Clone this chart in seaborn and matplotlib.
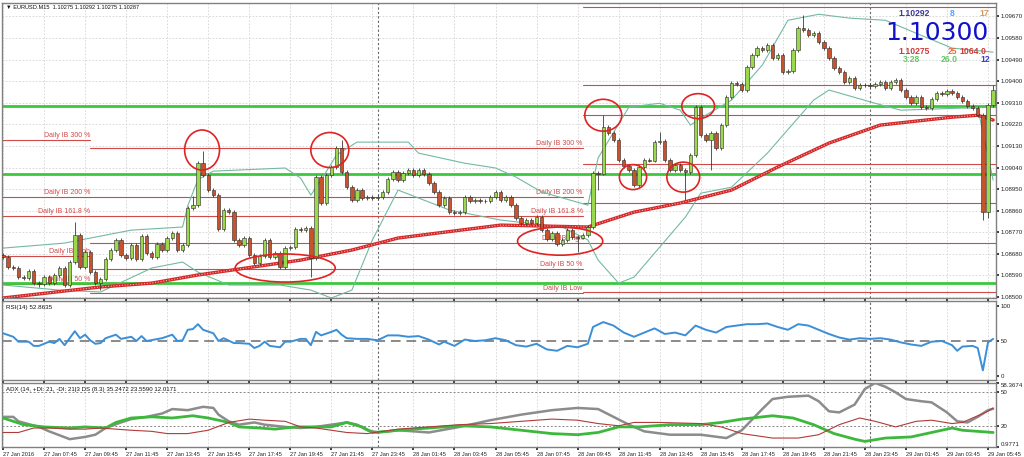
import numpy as np
import pandas as pd
import seaborn as sns
import matplotlib.pyplot as plt
from matplotlib.patches import Ellipse

# EURUSD M15, one candle per bar index (bar 0 = 27 Jan 05:45)
first_open = 1.08675
closes = [
    1.08667, 1.08625, 1.08621, 1.08583, 1.08579, 1.08608, 1.08558, 1.08554, 1.08583, 1.08558,
    1.08592, 1.08621, 1.08550, 1.08646, 1.08758, 1.08625, 1.08688, 1.08604, 1.08558, 1.08575,
    1.08658, 1.08696, 1.08738, 1.08675, 1.08663, 1.08717, 1.08658, 1.08754, 1.08683, 1.08667,
    1.08721, 1.08696, 1.08746, 1.08767, 1.08696, 1.08717, 1.08871, 1.08883, 1.09058, 1.09008,
    1.08946, 1.08925, 1.08783, 1.08863, 1.08854, 1.08738, 1.08717, 1.08746, 1.08675, 1.08642,
    1.08671, 1.08738, 1.08667, 1.08683, 1.08625, 1.08704, 1.08708, 1.08783, 1.08781, 1.08788,
    1.08663, 1.09000, 1.08892, 1.09008, 1.09042, 1.09121, 1.09021, 1.08958, 1.08904, 1.08946,
    1.08913, 1.08917, 1.08913, 1.08917, 1.08938, 1.08992, 1.09021, 1.08988, 1.09017, 1.09029,
    1.09008, 1.09029, 1.09013, 1.08975, 1.08938, 1.08883, 1.08913, 1.08854, 1.08850, 1.08854,
    1.08917, 1.08900, 1.08904, 1.08900, 1.08902, 1.08917, 1.08938, 1.08904, 1.08917, 1.08883,
    1.08829, 1.08808, 1.08821, 1.08808, 1.08833, 1.08779, 1.08742, 1.08767, 1.08721, 1.08738,
    1.08779, 1.08750, 1.08748, 1.08758, 1.08792, 1.09017, 1.09015, 1.09208, 1.09183, 1.09154,
    1.09071, 1.09046, 1.09029, 1.08967, 1.09042, 1.09071, 1.09069, 1.09146, 1.09150, 1.09071,
    1.09029, 1.09050, 1.09029, 1.09021, 1.09092, 1.09292, 1.09175, 1.09154, 1.09183, 1.09121,
    1.09217, 1.09333, 1.09392, 1.09388, 1.09363, 1.09458, 1.09508, 1.09538, 1.09529, 1.09550,
    1.09496, 1.09508, 1.09438, 1.09442, 1.09529, 1.09621, 1.09613, 1.09592, 1.09600, 1.09563,
    1.09538, 1.09496, 1.09454, 1.09438, 1.09396, 1.09413, 1.09371, 1.09383, 1.09385, 1.09379,
    1.09388, 1.09396, 1.09371, 1.09396, 1.09404, 1.09363, 1.09333, 1.09308, 1.09333, 1.09292,
    1.09288, 1.09325, 1.09350, 1.09346, 1.09358, 1.09350, 1.09333, 1.09317, 1.09296, 1.09288,
    1.09258, 1.08854, 1.09300, 1.09363,
]
# bars with a long shadow
long_highs = {14: 1.08813, 37: 1.08921, 39: 1.09108, 66: 1.09154, 117: 1.09258,
              128: 1.09188, 156: 1.09675, 193: 1.09383}
long_lows = {7: 1.08542, 19: 1.08529, 60: 1.08583, 112: 1.08688, 116: 1.08946,
             133: 1.08904, 138: 1.09029, 191: 1.08821, 192: 1.08829}

# moving average (red dotted)
ma_bars = [0, 19, 29, 38, 58, 68, 77, 97, 114, 123, 132, 142, 151, 161, 171, 185, 190, 193]
ma_vals = [1.08496, 1.08542, 1.08558, 1.08592, 1.08654, 1.08696, 1.08746, 1.08800, 1.08792,
           1.08854, 1.08892, 1.08946, 1.09042, 1.09142, 1.09217, 1.09250, 1.09258, 1.09238]

# bollinger bands
up_bars = [0, 12, 25, 35, 36, 38, 41, 55, 58, 60, 62, 65, 69, 79, 81, 90, 96, 100, 105, 114,
           116, 122, 128, 132, 134, 136, 142, 148, 153, 159, 165, 172, 178, 185, 193]
up_vals = [1.08704, 1.08725, 1.08779, 1.08792, 1.08880, 1.08990, 1.09025, 1.09038, 1.08996,
           1.08925, 1.08988, 1.09092, 1.09146, 1.09146, 1.09100, 1.09058, 1.09038, 1.09000,
           1.08938, 1.08883, 1.09080, 1.09292, 1.09308, 1.09279, 1.09217, 1.09246, 1.09321,
           1.09467, 1.09654, 1.09679, 1.09663, 1.09654, 1.09600, 1.09538, 1.09521]
lo_bars = [0, 11, 19, 29, 35, 38, 44, 54, 60, 64, 68, 72, 77, 87, 97, 109, 114, 116, 120, 123,
           133, 136, 142, 149, 158, 161, 170, 175, 187, 190, 193]
lo_vals = [1.08550, 1.08529, 1.08521, 1.08621, 1.08646, 1.08604, 1.08550, 1.08550, 1.08529,
           1.08496, 1.08529, 1.08738, 1.08946, 1.08863, 1.08821, 1.08792, 1.08738, 1.08654,
           1.08558, 1.08583, 1.08833, 1.08933, 1.08958, 1.09100, 1.09321, 1.09363, 1.09308,
           1.09279, 1.09288, 1.09288, 1.08988]

# levels
green_levels = [1.09296, 1.09013, 1.08558]
ib_names = ["Daily IB 300 %", "Daily IB 200 %", "Daily IB 161.8 %", "Daily IB High",
            "Daily IB 50 %", "Daily IB Low"]
day1_levels = [1.09154, 1.08917, 1.08838, 1.08671, 1.08554]
day2_levels = [1.09121, 1.08917, 1.08838, 1.08725, 1.08617, 1.08517]
day3_levels = [1.09708, 1.09383, 1.09258, 1.09054, 1.08892, 1.08725, 1.08521]
day_ends = [17, 113]
day_breaks = [73, 169]

# RSI(14)
rsi_bars = [0, 2, 3, 5, 6, 7, 9, 10, 11, 12, 14, 15, 16, 17, 18, 19, 20, 22, 23, 25, 26, 27, 28,
            31, 33, 34, 35, 36, 37, 38, 39, 41, 42, 43, 45, 46, 48, 49, 50, 51, 52, 54, 55, 56,
            58, 59, 60, 61, 62, 64, 65, 66, 67, 69, 71, 73, 75, 77, 79, 81, 83, 85, 86, 88, 90,
            92, 94, 96, 98, 100, 102, 104, 106, 108, 110, 112, 114, 115, 117, 119, 121, 123,
            125, 127, 129, 131, 133, 135, 137, 139, 141, 143, 145, 147, 149, 151, 153, 155,
            157, 159, 161, 163, 165, 167, 169, 171, 173, 175, 177, 179, 181, 183, 185, 186,
            187, 189, 190, 191, 192, 193]
rsi_vals = [61, 56, 49, 49, 43, 43, 49, 47, 53, 44, 64, 54, 59, 51, 46, 47, 54, 59, 53, 56, 50,
            57, 50, 54, 59, 50, 51, 66, 67, 74, 66, 61, 50, 54, 47, 47, 46, 40, 43, 49, 43, 41,
            49, 49, 53, 53, 44, 63, 58, 63, 66, 59, 54, 53, 53, 51, 58, 58, 56, 57, 52, 45, 49,
            43, 52, 50, 51, 54, 51, 44, 42, 46, 38, 36, 43, 41, 46, 70, 77, 72, 62, 56, 62, 68,
            60, 62, 58, 72, 66, 62, 70, 72, 74, 74, 75, 70, 66, 74, 72, 66, 60, 55, 52, 54, 53,
            54, 52, 48, 45, 43, 49, 50, 44, 36, 42, 43, 40, 8, 48, 53]

# ADX(14) with +DI / -DI
adx_bars = [0, 2, 3, 7, 9, 13, 16, 18, 20, 23, 25, 28, 31, 33, 36, 39, 41, 42, 44, 46, 49, 51,
            55, 58, 61, 64, 67, 69, 71, 73, 75, 77, 83, 89, 95, 101, 107, 112, 116, 119, 122,
            125, 130, 136, 141, 144, 148, 150, 153, 157, 159, 161, 163, 166, 168, 170, 172,
            174, 176, 179, 181, 184, 186, 188, 190, 192, 193]
adx_vals = [28, 28, 24, 19, 15, 8, 10, 12, 18, 23, 26, 28, 31, 35, 34, 37, 36, 30, 24, 21, 23,
            21, 19, 18, 19, 21, 23, 21, 16, 14, 15, 16, 14, 19, 25, 30, 34, 36, 35, 28, 21, 15,
            12, 12, 9, 16, 35, 44, 46, 47, 42, 33, 32, 39, 53, 58.37, 55, 50, 44, 42, 41, 32,
            24, 23, 28, 34, 35.25]
pdi_bars = [0, 4, 8, 13, 16, 20, 22, 25, 29, 33, 37, 40, 44, 46, 50, 53, 57, 60, 64, 67, 70,
            72, 75, 77, 83, 89, 95, 101, 107, 112, 116, 120, 124, 130, 136, 140, 144, 150, 154,
            158, 162, 166, 168, 172, 177, 181, 185, 187, 190, 193]
pdi_vals = [27, 21, 19, 18, 19, 18, 23, 27, 28, 27, 29, 27, 23, 19, 18, 17, 19, 19, 19, 23, 19,
            14, 15, 16, 18, 20, 19, 16, 13, 12, 14, 19, 19, 21, 21, 23, 26, 29, 27, 21, 13, 8,
            6, 9, 10, 14, 18, 16, 15, 14]
mdi_bars = [0, 3, 6, 9, 13, 16, 19, 22, 25, 29, 32, 36, 40, 44, 48, 51, 55, 58, 61, 64, 67, 71,
            74, 77, 83, 89, 95, 101, 107, 112, 116, 120, 123, 128, 136, 140, 144, 150, 155, 159,
            163, 167, 170, 174, 178, 181, 185, 187, 189, 192, 193]
mdi_vals = [14, 14, 18, 18, 17, 17, 18, 17, 16, 15, 13, 13, 16, 23, 26, 25, 24, 19, 18, 16, 14,
            13, 15, 17, 19, 21, 22, 24, 26, 25, 22, 20, 23, 23, 22, 19, 13, 9, 9, 12, 21, 27,
            24, 19, 24, 25, 22, 23, 27, 33, 36]

time_labels = ["27 Jan 2016", "27 Jan 07:45", "27 Jan 09:45", "27 Jan 11:45", "27 Jan 13:45",
               "27 Jan 15:45", "27 Jan 17:45", "27 Jan 19:45", "27 Jan 21:45", "27 Jan 23:45",
               "28 Jan 01:45", "28 Jan 03:45", "28 Jan 05:45", "28 Jan 07:45", "28 Jan 09:45",
               "28 Jan 11:45", "28 Jan 13:45", "28 Jan 15:45", "28 Jan 17:45", "28 Jan 19:45",
               "28 Jan 21:45", "28 Jan 23:45", "29 Jan 01:45", "29 Jan 03:45", "29 Jan 05:45"]
label_bars = list(range(0, 193, 8))
price_ticks = [1.09670, 1.09580, 1.09490, 1.09400, 1.09310, 1.09220, 1.09130,
               1.09040, 1.08950, 1.08860, 1.08770, 1.08680, 1.08590, 1.08500]

# hand drawn marks: (bar, price, width in bars, height in price)
marks = [(38.8, 1.09113, 6.8, 0.00167), (63.7, 1.09113, 7.4, 0.00146),
         (55.0, 1.08621, 19.5, 0.00117), (108.6, 1.08733, 16.6, 0.00117),
         (117.0, 1.09258, 7.2, 0.00133), (122.8, 1.09000, 5.3, 0.00104),
         (135.5, 1.09296, 6.4, 0.00104), (132.6, 1.09000, 6.4, 0.00125)]

sns.set_theme(style="white")
plt.rcParams['font.family'] = ['Liberation Sans', 'DejaVu Sans']

W, H = 1024, 457
fig = plt.figure(figsize=(W / 100, H / 100), dpi=100)
fig.patch.set_facecolor('white')


def box(x0, y0, x1, y1):
    return [x0 / W, 1 - y1 / H, (x1 - x0) / W, (y1 - y0) / H]


ax = fig.add_axes(box(2, 3, 996, 298))
ax_rsi = fig.add_axes(box(2, 301, 996, 380))
ax_adx = fig.add_axes(box(2, 383, 996, 447))

XMIN, XMAX = -0.2, 193.56
GRID = '#d4d4d4'
for a in (ax, ax_rsi, ax_adx):
    a.set_xlim(XMIN, XMAX)
    a.set_xticks(label_bars)
    a.grid(True, axis='x', color=GRID, ls=(0, (2, 2)), lw=0.6)
    for b in day_breaks:
        a.axvline(b, color='#666666', ls=(0, (2, 2)), lw=0.8, zorder=1)
    for s in a.spines.values():
        s.set_color('#808080')
        s.set_linewidth(1.0)
    a.yaxis.tick_right()
    a.tick_params(axis='y', labelsize=4.4, length=2, pad=1.5, colors='#222222', right=True)
    a.tick_params(axis='x', length=2, pad=1.5, labelsize=4.1, colors='#222222', bottom=True)
    a.set_facecolor('white')

# ---- main price window ----
candles = pd.DataFrame({'bar': np.arange(len(closes)), 'close': closes})
candles['open'] = [first_open] + closes[:-1]
candles['high'] = candles[['open', 'close']].max(axis=1) + 0.00008
candles['low'] = candles[['open', 'close']].min(axis=1) - 0.00008
for b, v in long_highs.items():
    candles.loc[b, 'high'] = v
for b, v in long_lows.items():
    candles.loc[b, 'low'] = v
candles['bottom'] = candles[['open', 'close']].min(axis=1)
candles['body'] = (candles['close'] - candles['open']).abs().clip(lower=0.000012)
up = candles['close'] >= candles['open']

ax.set_ylim(1.08496, 1.09726)
ax.set_yticks(price_ticks)
ax.set_yticklabels([f"{p:.5f}" for p in price_ticks])
ax.grid(True, axis='y', color=GRID, ls=(0, (2, 2)), lw=0.6)
ax.tick_params(labelbottom=False)

IB_RED = '#d04a4a'
for lv in day1_levels:
    ax.plot([XMIN, day_ends[0]], [lv, lv], color=IB_RED, lw=0.8, zorder=2)
for lv in day2_levels:
    ax.plot([day_ends[0], day_ends[1]], [lv, lv], color=IB_RED, lw=0.8, zorder=2)
for lv in day3_levels:
    ax.plot([day_ends[1], XMAX], [lv, lv], color=IB_RED, lw=0.8, zorder=2)
for name, lv in zip(ib_names, day1_levels):
    ax.text(day_ends[0], lv + 0.00003, name, ha='right', va='bottom', fontsize=5,
            color=IB_RED, zorder=2)
for name, lv in zip(ib_names, day2_levels):
    ax.text(day_ends[1], lv + 0.00003, name, ha='right', va='bottom', fontsize=5,
            color=IB_RED, zorder=2)
for lv in green_levels:
    ax.axhline(lv, color='#3cc83c', lw=2.0, zorder=2)

sns.lineplot(x=up_bars, y=up_vals, ax=ax, color='#74b9a2', lw=0.8, estimator=None, zorder=2)
sns.lineplot(x=lo_bars, y=lo_vals, ax=ax, color='#74b9a2', lw=0.8, estimator=None, zorder=2)
sns.lineplot(x=ma_bars, y=ma_vals, ax=ax, color='#d42828', lw=2.4, estimator=None, zorder=3)
sns.lineplot(x=ma_bars, y=ma_vals, ax=ax, color='#f4b0b0', lw=0.8, ls=(0, (1, 1.5)),
             estimator=None, zorder=3)

ax.vlines(candles['bar'], candles['low'], candles['high'], color='#3a3a3a', lw=0.6, zorder=4)
ax.bar(candles['bar'][up], candles['body'][up], bottom=candles['bottom'][up], width=0.66,
       color='#9ad84c', edgecolor='#2a2a2a', lw=0.4, zorder=5)
ax.bar(candles['bar'][~up], candles['body'][~up], bottom=candles['bottom'][~up], width=0.66,
       color='#c8522c', edgecolor='#2a2a2a', lw=0.4, zorder=5)

for bx, py, w, h in marks:
    ax.add_patch(Ellipse((bx, py), w, h, fill=False, ec='#e02222', lw=1.2, zorder=6))
ax.set_xlabel('')
ax.set_ylabel('')

# ---- RSI ----
ax_rsi.set_ylim(-5.7, 107.1)
ax_rsi.set_yticks([0, 50, 100])
ax_rsi.axhline(50, color='#8a8a8a', lw=1.4, ls=(0, (5, 3)), zorder=2)
sns.lineplot(x=rsi_bars, y=rsi_vals, ax=ax_rsi, color='#3b8fd8', lw=1.4, estimator=None,
             zorder=3)
ax_rsi.tick_params(labelbottom=False)
ax_rsi.set_xlabel('')
ax_rsi.set_ylabel('')

# ---- ADX ----
ax_adx.set_ylim(0.9771, 58.3674)
ax_adx.set_yticks([0.9771, 20, 50, 58.3674])
ax_adx.set_yticklabels(['0.9771', '20', '50', '58.3674'])
for lv in (20, 50):
    ax_adx.axhline(lv, color='#888888', lw=0.7, ls=(0, (2, 2)), zorder=1)
sns.lineplot(x=adx_bars, y=adx_vals, ax=ax_adx, color='#8c8c8c', lw=1.8, estimator=None,
             zorder=3)
sns.lineplot(x=pdi_bars, y=pdi_vals, ax=ax_adx, color='#3cb83c', lw=2.0, estimator=None,
             zorder=3)
sns.lineplot(x=mdi_bars, y=mdi_vals, ax=ax_adx, color='#b23a3a', lw=0.8, estimator=None,
             zorder=3)
labs = ax_adx.get_yticklabels()
labs[0].set_va('bottom')
labs[-1].set_va('top')
ax_adx.set_xticklabels(time_labels, ha='left')
ax_adx.set_xlabel('')
ax_adx.set_ylabel('')

# ---- texts ----
def ftext(x, y, s, **kw):
    fig.text(x / W, 1 - y / H, s, va='center', **kw)


ftext(6, 7, "\u25bc EURUSD.M15  1.10275 1.10292 1.10275 1.10287", fontsize=4.1,
      color='#111111')
ftext(6, 307, "RSI(14) 52.8635", fontsize=4.5, color='#111111')
ftext(6, 389, "ADX (14, +DI: 21, -DI: 21|3 DS (8.3) 35.2472 23.5590 12.0171", fontsize=4.4,
      color='#111111')

ftext(898, 14, "1.10292", fontsize=6.2, color='#3a3aa0', weight='bold')
ftext(950, 14, "8", fontsize=6.2, color='#4aa3ff', weight='bold')
ftext(979, 14, "17", fontsize=6.2, color='#d09a60', weight='bold')
ftext(937, 33, "1.10300", fontsize=18, color='#1111cc', ha='center', family='DejaVu Sans')
ftext(898, 51, "1.10275", fontsize=6.2, color='#d03a3a', weight='bold')
ftext(948, 51, "25", fontsize=6.2, color='#e07040', weight='bold')
ftext(959, 51, "1064.0", fontsize=6.2, color='#d03a3a', weight='bold')
ftext(903, 59, "3:28", fontsize=6.2, color='#66c866', weight='bold')
ftext(941, 59, "26.0", fontsize=6.2, color='#66c866', weight='bold')
ftext(980, 59, "12", fontsize=6.2, color='#3a3acc', weight='bold')

fig.savefig('out.png', dpi=100, facecolor='white')
